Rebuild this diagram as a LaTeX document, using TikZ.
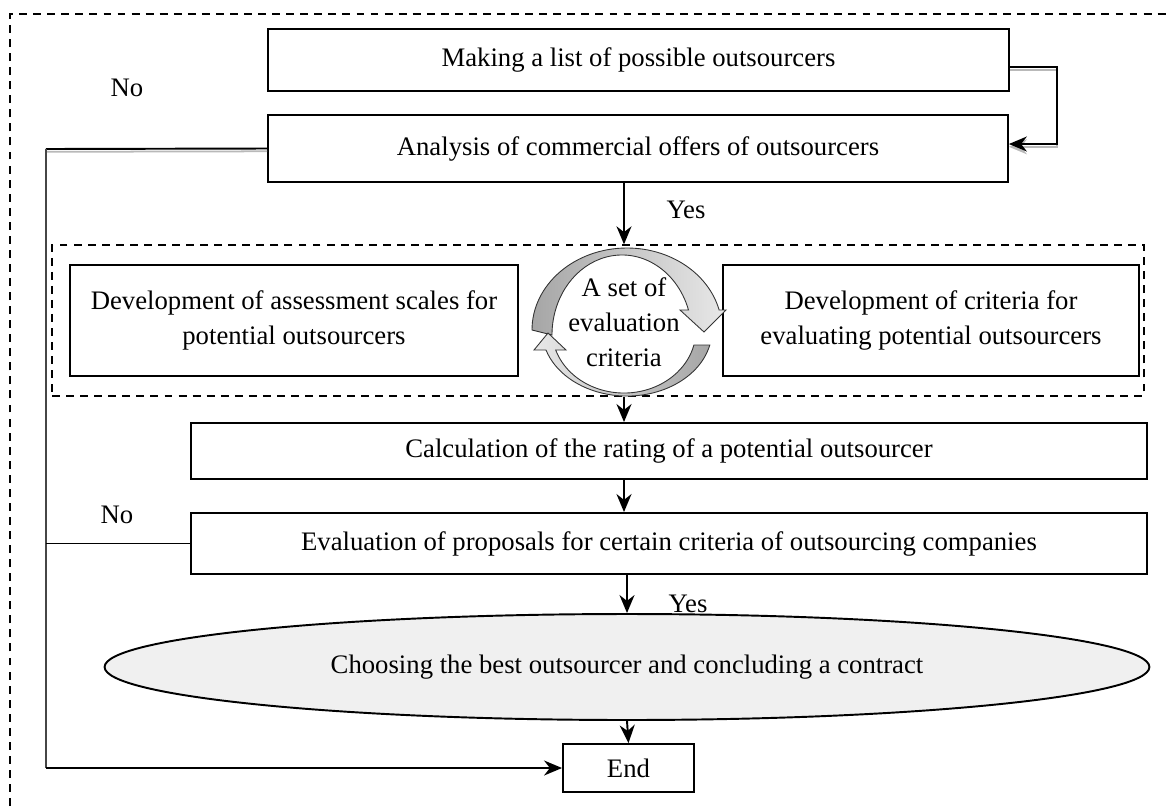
\documentclass[tikz,border=0pt]{standalone}
\usepackage{fontspec}
\setmainfont{Liberation Serif}
\usetikzlibrary{arrows.meta, shapes.geometric, positioning}
\tikzset{%
  >={Stealth[width=3mm,length=3.6mm]},
  % Specifications for style of nodes:
        base/.style = {rectangle, draw=black, line width=1.1pt,
                           text centered, align=center},
        process/.style = {base, fill=white},
        term/.style = {ellipse, draw=black, line width=1.1pt,
                           fill=gray!12},
        group/.style = {rectangle, draw=black, line width=0.8pt,
                           dash pattern=on 4.5pt off 3.5pt},
        line/.style = {draw, line width=1.1pt},
        shade/.style = {preaction={draw=gray!55, line width=1pt,
                           transform canvas={yshift=-1.6pt}}},
        cyclearrow/.style = {draw=gray!40!black, line width=0.5pt}
}
\newcommand{\scalestext}{Development of assessment scales for\\
    potential outsourcers}
\newcommand{\criteriatext}{Development of criteria for\\
    evaluating potential outsourcers}

\begin{document}
\begin{tikzpicture}[x=0.02cm, y=0.02cm,
    every node/.style={font=\fontsize{15.2}{20}\selectfont}]
  \useasboundingbox (0,0) rectangle (1167,-806);
  % outer frame, only its top and left edges show
  \draw[line width=0.8pt, dash pattern=on 4.5pt off 3.5pt]
        (10,-806) -- (10,-14) -- (1167,-14);

  % Specification of nodes (position, etc.)
    \node (list)      [process, minimum width=14.82cm, minimum height=1.24cm]
                      at (638.5,-60) {Making a list of possible outsourcers};
    \node (analysis)  [process, minimum width=14.8cm, minimum height=1.34cm]
                      at (638,-148.5) {Analysis of commercial offers of outsourcers};
    \node (group)     [group, minimum width=21.84cm, minimum height=3.02cm]
                      at (598,-320.5) {};
    \node (scales)    [process, minimum width=8.96cm, minimum height=2.22cm]
                      at (294,-320.5) {\scalestext};
    \node (criteria)  [process, minimum width=8.32cm, minimum height=2.22cm]
                      at (931,-320.5) {\criteriatext};
    \node (cycle)     [align=center] at (624,-322)
                      {A set of\\ evaluation\\ criteria};
    \node (rating)    [process, minimum width=19.12cm, minimum height=1.12cm]
                      at (669,-451) {Calculation of the rating of a potential outsourcer};
    \node (proposals) [process, minimum width=19.12cm, minimum height=1.22cm]
                      at (669,-543.5) {Evaluation of proposals for certain criteria of outsourcing companies};
    \node (choice)    [term, minimum width=20.9cm, minimum height=2.12cm]
                      at (627,-667) {Choosing the best outsourcer and concluding a contract};
    \node (end)       [process, minimum width=2.62cm, minimum height=0.96cm]
                      at (628.5,-768) {End};
    \coordinate (nobend) at (46,-149);
    \coordinate (nofoot) at (46,-768);

  % circular arrows round the set of criteria
  \path[cyclearrow, left color=gray!70, right color=gray!18]
     (532,-330) arc[start angle=180, end angle=14.1, x radius=95, y radius=82]
     -- (726,-310) -- (704,-332) -- (680,-310) -- (688.5,-310)
     arc[start angle=18.2, end angle=180, x radius=70, y radius=80] -- cycle;
  \path[cyclearrow, left color=gray!18, right color=gray!70]
     (709.8,-345) arc[start angle=-13.1, end angle=-162.4, x radius=85, y radius=66]
     -- (534,-350) -- (548,-333) -- (566,-350) -- (555.7,-350)
     arc[start angle=-161.5, end angle=-13.8, x radius=72, y radius=63] -- cycle;

  % Specification of lines between nodes specified above
  \draw[->, line, shade]  ([yshift=-0.14cm]list.east) -- ++(47,0)
                          |- ([yshift=0.09cm]analysis.east);
  \draw[line, shade]      (analysis.west) -- (nobend);
  \draw[line, gray!55!black] (nobend) -- (nofoot);
  \draw[->, line]         (nofoot) -- (end.west);
  \draw[line]             (proposals.west) -- (nobend |- proposals.west);
  \draw[->, line]         (cycle |- analysis.south) -- (cycle |- group.north);
  \draw[->, line]         (cycle |- group.south) -- (cycle |- rating.north);
  \draw[->, line]         (cycle |- rating.south) -- (cycle |- proposals.north);
  \draw[->, line]         (choice |- proposals.south) -- (choice.north);
  \draw[->, line]         (choice.south) -- (end.north);

  % Yes / No labels
  \node (no1)  at (127,-88)  {No};
  \node (no2)  at (117,-515) {No};
  \node (yes1) at (686,-210) {Yes};
  \node (yes2) at (688,-604) {Yes};
\end{tikzpicture}
\end{document}
